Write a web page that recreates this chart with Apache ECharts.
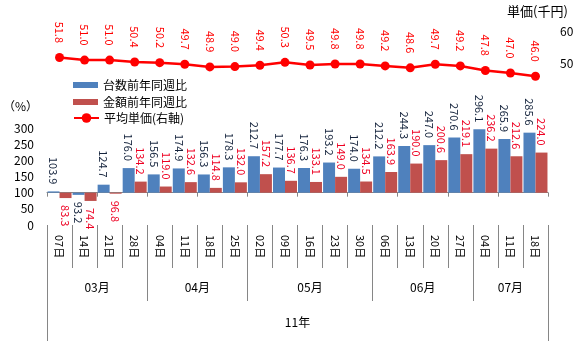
<!DOCTYPE html>
<html><head><meta charset="utf-8">
<script src="https://cdn.jsdelivr.net/npm/echarts@6/dist/echarts.min.js"></script>
<style>html,body{margin:0;padding:0;background:#fff}#c{width:583px;height:341px}</style>
</head><body><div id="c"></div>
<script>
const days = ['07日','14日','21日','28日','04日','11日','18日','25日','02日','09日','16日','23日','30日','06日','13日','20日','27日','04日','11日','18日'];
const months = ['03月','04月','05月','06月','07月'];
const monthSizes = [4,4,5,4,3];
const yearLabel = '11年';
const unitsYoY = [103.9,93.2,124.7,176.0,156.5,174.9,156.3,178.3,212.7,177.7,176.3,193.2,174.0,212.2,244.3,247.0,270.6,296.1,265.9,285.6];
const amountYoY = [83.3,74.4,96.8,134.2,119.0,132.6,114.8,132.0,157.2,136.7,133.1,149.0,134.5,163.9,190.0,200.6,219.1,236.2,212.6,224.0];
const avgPrice = [51.8,51.0,51.0,50.4,50.2,49.7,48.9,49.0,49.4,50.3,49.5,49.8,49.8,49.2,48.6,49.7,49.2,47.8,47.0,46.0];
const BASE = 100;

const FONT = '"Noto Sans CJK JP", "Noto Sans", sans-serif';
const GRAY = '#868686';

const monthStarts = [];
const monthCenters = {};
let acc = 0;
months.forEach((m, i) => { monthStarts.push(acc); monthCenters[(acc + monthSizes[i] / 2).toFixed(1)] = m; acc += monthSizes[i]; });
const nCat = days.length;

function barData(arr) {
  return arr.map(v => ({
    value: v - BASE,
    label: v >= BASE ? {position: 'top', align: 'right'} : {position: 'bottom', align: 'left'}
  }));
}
const hiddenLine = {show: true, onZero: false, lineStyle: {color: 'rgba(0,0,0,0)', width: 0}};

const chart = echarts.init(document.getElementById('c'), null, {renderer: 'canvas'});
chart.setOption({
  animation: false,
  textStyle: {fontFamily: FONT},
  grid: {left: 47, right: 35, top: 31, bottom: 116, outerBoundsMode: 'none'},
  legend: [
    {data: [{name: '台数前年同週比', icon: 'rect'}, {name: '金額前年同週比', icon: 'rect'}],
     orient: 'vertical', left: 68, top: 73, itemWidth: 25, itemHeight: 6, itemGap: 3,
     textStyle: {fontSize: 12, lineHeight: 14, color: '#000', fontFamily: FONT}},
    {data: ['平均単価(右軸)'], orient: 'vertical', left: 68, top: 106, itemWidth: 25, itemHeight: 12,
     textStyle: {fontSize: 12, lineHeight: 14, color: '#000', fontFamily: FONT}}
  ],
  graphic: [
    {type: 'text', left: 3, top: 100, style: {text: '（%）', fontSize: 12, fill: '#000', fontFamily: FONT}},
    {type: 'text', left: 507, top: 5, style: {text: '単価(千円)', fontSize: 13, fill: '#000', fontFamily: FONT}}
  ],
  xAxis: [
    {type: 'category', data: days, position: 'bottom',
     axisLine: {show: true, onZero: true, onZeroAxisIndex: 0, lineStyle: {color: GRAY}},
     axisTick: {show: true, length: 4, lineStyle: {color: GRAY}}, axisLabel: {show: false}, splitLine: {show: false}},
    {type: 'category', data: days, position: 'bottom', axisLine: hiddenLine,
     axisTick: {show: true, length: 43, lineStyle: {color: GRAY, width: 1}},
     axisLabel: {rotate: -90, margin: 10, fontSize: 11, color: '#000', fontFamily: FONT, interval: 0}},
    {type: 'category', data: days, position: 'bottom', axisLine: hiddenLine,
     axisTick: {show: true, length: 76, interval: (i) => monthStarts.indexOf(i) >= 0, lineStyle: {color: GRAY, width: 1}},
     axisLabel: {show: false}},
    {type: 'category', data: days, position: 'bottom', axisLine: hiddenLine,
     axisTick: {show: true, length: 116, interval: (i) => i === 0, lineStyle: {color: GRAY, width: 1}},
     axisLabel: {show: false}},
    {type: 'value', min: 0, max: nCat, interval: 0.5, position: 'bottom',
     axisLine: {show: false, onZero: false}, axisTick: {show: false}, splitLine: {show: false},
     axisLabel: {margin: 56, fontSize: 12, color: '#000', fontFamily: FONT,
       formatter: (v) => monthCenters[Number(v).toFixed(1)] || ''}},
    {type: 'value', min: 0, max: nCat, interval: 0.5, position: 'bottom',
     axisLine: {show: false, onZero: false}, axisTick: {show: false}, splitLine: {show: false},
     axisLabel: {margin: 91, fontSize: 12, color: '#000', fontFamily: FONT,
       formatter: (v) => (Math.abs(v - nCat / 2) < 1e-6 ? yearLabel : '')}}
  ],
  yAxis: [
    {type: 'value', min: -100, max: 500, interval: 50, position: 'left',
     axisLine: {show: false}, axisTick: {show: false}, splitLine: {show: false},
     axisLabel: {margin: 13, fontSize: 12, color: '#000', fontFamily: FONT,
       formatter: (v) => (v + BASE <= 300 ? String(v + BASE) : '')}},
    {type: 'value', min: 0, max: 60, interval: 10, position: 'right',
     axisLine: {show: false}, axisTick: {show: false}, splitLine: {show: false},
     axisLabel: {margin: 12, fontSize: 12, color: '#000', fontFamily: FONT,
       formatter: (v) => (v >= 50 ? String(v) : '')}}
  ],
  series: [
    {name: '台数前年同週比', type: 'bar', xAxisIndex: 0, yAxisIndex: 0, data: barData(unitsYoY),
     barWidth: 12, barGap: '0%', itemStyle: {color: '#4F81BD'},
     label: {show: true, rotate: -90, verticalAlign: 'middle', distance: 7, fontSize: 11,
       color: '#14233C', fontFamily: FONT, formatter: (p) => unitsYoY[p.dataIndex].toFixed(1)}},
    {name: '金額前年同週比', type: 'bar', xAxisIndex: 0, yAxisIndex: 0, data: barData(amountYoY),
     barWidth: 12, barGap: '0%', itemStyle: {color: '#C0504D'},
     label: {show: true, rotate: -90, verticalAlign: 'middle', distance: 7, fontSize: 11,
       color: '#EE0022', fontFamily: FONT, formatter: (p) => amountYoY[p.dataIndex].toFixed(1)}},
    {name: '平均単価(右軸)', type: 'line', xAxisIndex: 0, yAxisIndex: 1, data: avgPrice,
     symbol: 'circle', symbolSize: 9, z: 5,
     lineStyle: {color: '#FF0000', width: 2.5}, itemStyle: {color: '#FF0000'},
     label: {show: true, position: 'top', rotate: -90, align: 'right', verticalAlign: 'middle', distance: 10,
       fontSize: 11, color: '#FF0000', fontFamily: FONT, formatter: (p) => avgPrice[p.dataIndex].toFixed(1)}}
  ]
});
</script></body></html>
